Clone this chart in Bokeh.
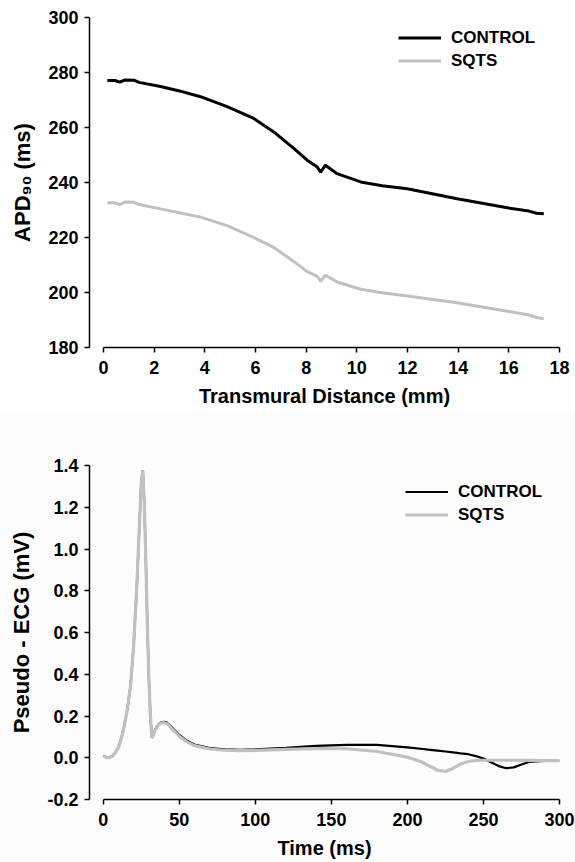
from bokeh.plotting import figure
from bokeh.layouts import column
from bokeh.models import Legend, LegendItem, FixedTicker, CustomJSTickFormatter
from bokeh.embed import file_html
from bokeh.resources import INLINE

# ---------------- data: APD90 vs transmural distance ----------------
dist_mm = [0.15, 0.45, 0.65, 0.85, 1.20, 1.40, 2.25, 3.0, 3.83, 4.88, 5.93, 6.72,
           7.51, 8.04, 8.44, 8.57, 8.76, 9.22, 10.15, 11.0, 11.99, 13.96, 15.94,
           16.79, 17.1, 17.38]
apd_control = [277.1, 277.1, 276.5, 277.3, 277.2, 276.4, 274.9, 273.3, 271.2, 267.6,
               263.3, 258.4, 252.4, 248.1, 245.6, 243.8, 246.3, 243.2, 240.2, 238.8,
               237.7, 234.1, 230.8, 229.6, 228.8, 228.6]
apd_sqts = [232.6, 232.6, 232.0, 232.9, 232.8, 232.0, 230.4, 229.0, 227.4, 224.3,
            220.0, 216.4, 211.3, 207.6, 205.9, 204.0, 206.3, 203.8, 201.2, 199.9,
            198.7, 196.3, 193.2, 191.8, 190.9, 190.4]

# ---------------- data: pseudo-ECG vs time ----------------
time_ms = [0, 2, 4, 6, 8, 10, 12, 14, 16, 18, 20, 22, 24, 25, 26, 27, 28, 29, 30,
           31, 32, 33, 34, 36, 38, 40, 42, 45, 50, 55, 60, 70, 80, 90, 100, 120,
           140, 160, 180, 200, 210, 215, 220, 225, 230, 235, 240, 245, 250, 255,
           260, 265, 270, 275, 280, 290, 300]
ecg_sqts = [0.010, 0.002, 0.000, 0.008, 0.025, 0.050, 0.095, 0.160, 0.240, 0.350,
            0.540, 0.810, 1.150, 1.320, 1.375, 1.220, 0.940, 0.630, 0.380, 0.200,
            0.095, 0.110, 0.130, 0.155, 0.166, 0.168, 0.163, 0.140, 0.103, 0.076,
            0.058, 0.042, 0.036, 0.034, 0.035, 0.040, 0.044, 0.043, 0.030, 0.003,
            -0.022, -0.042, -0.060, -0.066, -0.050, -0.030, -0.018, -0.013, -0.012,
            -0.012, -0.012, -0.012, -0.012, -0.013, -0.013, -0.014, -0.014]
ecg_control = [0.010, 0.002, 0.000, 0.008, 0.025, 0.050, 0.095, 0.160, 0.240, 0.350,
               0.540, 0.810, 1.150, 1.320, 1.375, 1.220, 0.940, 0.630, 0.380, 0.200,
               0.095, 0.112, 0.133, 0.158, 0.170, 0.172, 0.168, 0.146, 0.109, 0.082,
               0.063, 0.046, 0.040, 0.038, 0.040, 0.048, 0.057, 0.062, 0.062, 0.050,
               0.042, 0.038, 0.034, 0.030, 0.026, 0.021, 0.017, 0.008, -0.004, -0.022,
               -0.040, -0.050, -0.046, -0.032, -0.020, -0.015, -0.014]

apd_ticks = [180, 200, 220, 240, 260, 280, 300]
dist_ticks = [0, 2, 4, 6, 8, 10, 12, 14, 16, 18]
ecg_ticks = [-0.2, 0.0, 0.2, 0.4, 0.6, 0.8, 1.0, 1.2, 1.4]
time_ticks = [0, 50, 100, 150, 200, 250, 300]

FONT = "Liberation Sans"
GRAY = "#c0c0c0"


def style(p, xticks, yticks, xlabel, ylabel, xb, yb):
    p.xgrid.visible = False
    p.ygrid.visible = False
    p.outline_line_color = None
    for ax, ticks, lab, b in ((p.xaxis[0], xticks, xlabel, xb), (p.yaxis[0], yticks, ylabel, yb)):
        ax.ticker = FixedTicker(ticks=ticks)
        ax.bounds = b
        ax.axis_label = lab
        ax.axis_label_text_font = FONT
        ax.axis_label_text_font_style = "bold"
        ax.axis_label_text_font_size = "20px"
        ax.axis_label_text_color = "#000000"
        ax.major_label_text_font = FONT
        ax.major_label_text_font_style = "bold"
        ax.major_label_text_font_size = "18px"
        ax.major_label_text_color = "#000000"
        ax.axis_line_color = "#000000"
        ax.axis_line_width = 1.5
        ax.major_tick_line_color = "#000000"
        ax.major_tick_line_width = 1.5
        ax.major_tick_out = 5
        ax.major_tick_in = 0
        ax.minor_tick_line_color = None
    p.yaxis[0].axis_label_text_font_size = "22px"
    p.yaxis[0].major_label_standoff = 6
    p.xaxis[0].major_label_standoff = 8
    p.yaxis[0].axis_label_standoff = 10
    p.xaxis[0].axis_label_standoff = 8


# ---------------- top panel ----------------
p1 = figure(width=575, height=413, x_range=(-0.553, 18), y_range=(180, 300),
            output_backend="svg", toolbar_location=None,
            min_border_left=89, min_border_right=16, min_border_top=17, min_border_bottom=66)
style(p1, dist_ticks, apd_ticks, "Transmural Distance (mm)", "APD\u2089\u2080 (ms)", (0, 18), (180, 300))
r1 = p1.line(dist_mm, apd_control, line_color="#000000", line_width=3)
r2 = p1.line(dist_mm, apd_sqts, line_color=GRAY, line_width=3)
leg1 = Legend(items=[LegendItem(label="CONTROL", renderers=[r1]),
                     LegendItem(label="SQTS", renderers=[r2])],
              location=(309, 275), orientation="vertical")

# ---------------- bottom panel ----------------
p2 = figure(width=575, height=449, x_range=(-9.05, 300), y_range=(-0.2, 1.4),
            output_backend="svg", toolbar_location=None,
            min_border_left=82, min_border_right=15, min_border_top=52, min_border_bottom=63,
            background_fill_color="#fcfcfc", border_fill_color="#fcfcfc")
style(p2, time_ticks, ecg_ticks, "Time (ms)", "Pseudo - ECG (mV)", (0, 300), (-0.2, 1.4))
p2.yaxis[0].formatter = CustomJSTickFormatter(code="return tick.toFixed(1);")
r3 = p2.line(time_ms, ecg_control, line_color="#000000", line_width=2.2)
r4 = p2.line(time_ms, ecg_sqts, line_color=GRAY, line_width=3.2)
leg2 = Legend(items=[LegendItem(label="CONTROL", renderers=[r3]),
                     LegendItem(label="SQTS", renderers=[r4])],
              location=(316, 273), orientation="vertical")

for leg in (leg1, leg2):
    leg.background_fill_alpha = 0
    leg.border_line_color = None
    leg.padding = 0
    leg.margin = 0
    leg.spacing = 0
    leg.glyph_width = 43
    leg.glyph_height = 23
    leg.label_height = 23
    leg.label_standoff = 10
    leg.label_text_font = FONT
    leg.label_text_font_style = "bold"
    leg.label_text_font_size = "17px"
    leg.label_text_color = "#000000"
p1.add_layout(leg1)
p2.add_layout(leg2)

layout = column(p1, p2, spacing=0)
open("out.html", "w").write(file_html(layout, INLINE))
